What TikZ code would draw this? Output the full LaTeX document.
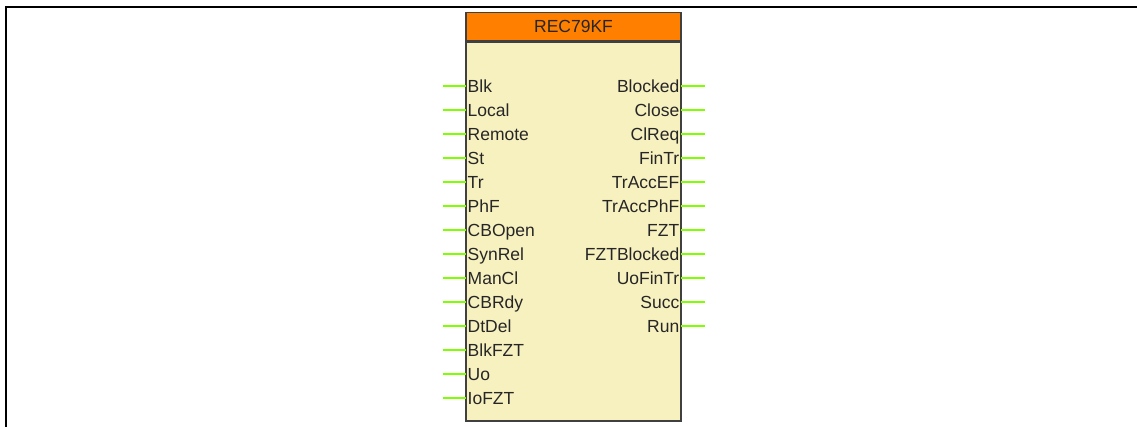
\documentclass[tikz,border=0pt]{standalone}
\usepackage{fontspec}
\setmainfont{Liberation Sans}
\usepackage{tikz}
\usetikzlibrary{positioning}

\definecolor{pingreen}{RGB}{128,255,0}
\definecolor{headorange}{RGB}{255,128,0}
\definecolor{bodyyellow}{RGB}{247,241,192}
\definecolor{boxgray}{RGB}{64,64,64}

\tikzset{
  blockhead/.style={draw=boxgray, line width=1.5pt, fill=headorange, minimum width=215pt,
    minimum height=28pt, inner sep=0pt, font=\fontsize{17.5}{20}\selectfont, text=black!85},
  blockbody/.style={draw=boxgray, line width=1.5pt, fill=bodyyellow, minimum width=215pt,
    minimum height=379pt, inner sep=0pt},
  pinlabel/.style={inner sep=1.5pt, text height=12.5pt, text depth=0pt,
    font=\fontsize{17.5}{20}\selectfont, text=black!85},
  pinline/.style={draw=pingreen, line width=1.6pt}
}

\begin{document}
\begin{tikzpicture}[x=1pt, y=-1pt]
    \useasboundingbox (0,0) rectangle (1137,427);

        % Frame
        \draw[line width=2pt] (6,427) -- (6,7) -- (1137,7);

        % Function block
        \node[blockbody] (body) at (573.5,231.5) {};
        \node[blockhead, above=0pt of body] (head) {REC79KF};

        % Input pins
        \foreach \i/\name in {0/Blk, 1/Local, 2/Remote, 3/St, 4/Tr, 5/PhF, 6/CBOpen, 7/SynRel,
            8/ManCl, 9/CBRdy, 10/DtDel, 11/BlkFZT, 12/Uo, 13/IoFZT} {
    \node[pinlabel, anchor=west] (in\i) at (466,{86+24*\i}) {\name};
    \coordinate (inend\i) at (443,{86+24*\i});
    \draw[pinline] (inend\i) -- (in\i.west);
}

        % Output pins
        \foreach \i/\name in {0/Blocked, 1/Close, 2/ClReq, 3/FinTr, 4/TrAccEF, 5/TrAccPhF, 6/FZT,
            7/FZTBlocked, 8/UoFinTr, 9/Succ, 10/Run} {
    \node[pinlabel, anchor=east] (out\i) at (681,{86+24*\i}) {\name};
    \coordinate (outend\i) at (705,{86+24*\i});
    \draw[pinline] (out\i.east) -- (outend\i);
}
    \end{tikzpicture}
\end{document}
